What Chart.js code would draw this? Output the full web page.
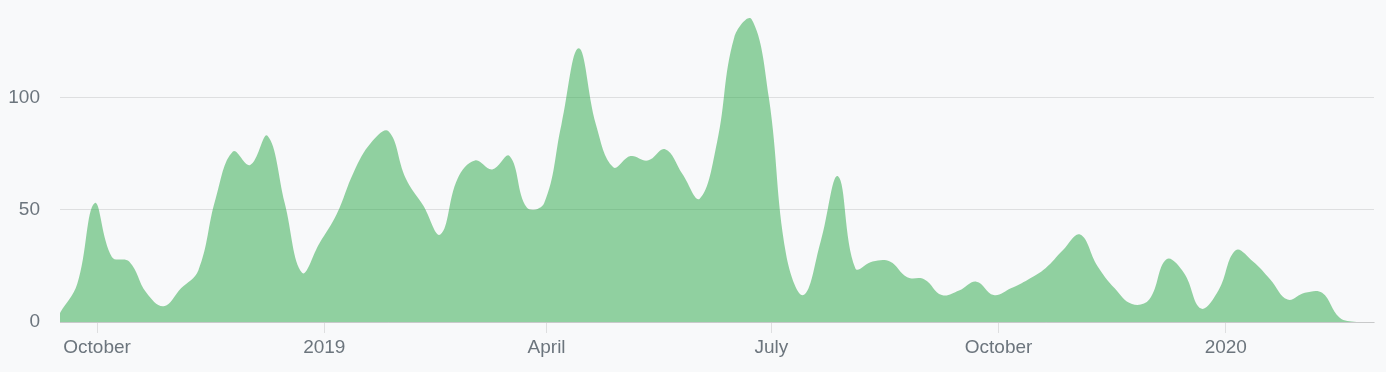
<!DOCTYPE html>
<html>
<head>
<meta charset="utf-8">
<script src="https://cdn.jsdelivr.net/npm/chart.js@4/dist/chart.umd.min.js"></script>
<style>
  html, body { margin: 0; padding: 0; background: #f8f9fa; }
  #wrap { width: 1386px; height: 372px; position: relative; }
</style>
</head>
<body>
<div id="wrap"><canvas id="c"></canvas></div>
<script>
// Weekly commit counts, one value per week starting on this Sunday
const firstWeek = '2018-09-16';
const commits = [
  4, 17, 53, 29, 27, 13, 7, 15, 23, 55,
  76, 70, 83, 53, 22, 35, 48, 67, 80, 85,
  64, 52, 39, 64, 72, 68, 74, 51, 53, 88,
  122, 88, 69, 74, 72, 77, 66, 55, 80, 127,
  135, 100, 30, 12, 36, 65, 24, 27, 27, 20,
  19, 12, 14, 18, 12, 15, 19, 24, 32, 39,
  25, 15, 8, 10, 28, 22, 6, 14, 32, 27,
  19, 10, 13, 13, 2, 0, 0
];
const xTickDates = ['2018-10-01', '2019-01-01', '2019-04-01', '2019-07-01', '2019-10-01', '2020-01-01'];
const xTickLabels = ['October', '2019', 'April', 'July', 'October', '2020'];
const yTicks = [0, 50, 100];

const DAY = 86400000;
const t0 = Date.parse(firstWeek);
const points = commits.map((v, i) => ({ x: t0 + i * 7 * DAY, y: v }));

const textColor = '#6c757d';
const gridColor = 'rgba(0,0,0,0.1)';
const font = { family: '"Liberation Sans", Arial, sans-serif', size: 19 };

new Chart(document.getElementById('c'), {
  type: 'line',
  data: {
    datasets: [{
      data: points,
      fill: 'origin',
      backgroundColor: 'rgba(40,167,69,0.5)',
      borderWidth: 0,
      borderColor: 'rgba(0,0,0,0)',
      pointRadius: 0,
      tension: 0.4
    }]
  },
  options: {
    responsive: true,
    maintainAspectRatio: false,
    animation: false,
    layout: { padding: { left: 8, right: 12, top: 8, bottom: 0 } },
    plugins: { legend: { display: false }, tooltip: { enabled: false } },
    scales: {
      x: {
        type: 'linear',
        min: points[0].x,
        max: points[points.length - 1].x,
        afterBuildTicks: (scale) => {
          scale.ticks = xTickDates.map(d => ({ value: Date.parse(d) }));
        },
        afterFit: (scale) => { scale.height = 50; },
        ticks: {
          autoSkip: false,
          maxRotation: 0,
          color: textColor,
          font: font,
          padding: 3,
          callback: (value, index) => xTickLabels[index]
        },
        grid: { drawOnChartArea: false, drawTicks: true, tickLength: 11, color: gridColor },
        border: { display: true, color: gridColor, width: 1 }
      },
      y: {
        min: 0,
        max: 140,
        afterBuildTicks: (scale) => {
          scale.ticks = yTicks.map(v => ({ value: v }));
        },
        afterFit: (scale) => {
          scale.width = 52;
          scale.paddingTop = 0;
          scale.paddingBottom = 0;
        },
        ticks: { color: textColor, font: font, padding: 20 },
        grid: { drawTicks: false, color: gridColor },
        border: { display: false }
      }
    }
  }
});
</script>
</body>
</html>
